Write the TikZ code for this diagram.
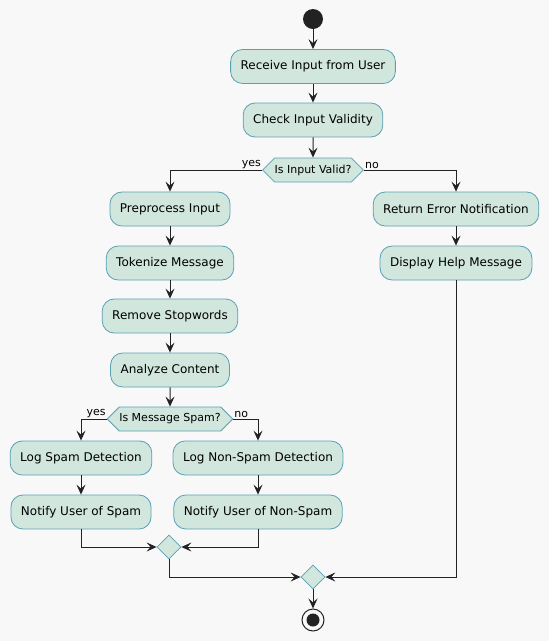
\documentclass[tikz,border=0pt]{standalone}
\usepackage{fontspec}
\setmainfont{DejaVu Sans}
\usetikzlibrary{shapes.geometric,shapes.symbols,arrows.meta}
\definecolor{bg}{RGB}{248,248,248}
\definecolor{actfill}{RGB}{209,230,221}
\definecolor{actline}{RGB}{90,160,180}
\definecolor{ink}{RGB}{34,34,34}
\begin{document}
\begin{tikzpicture}[x=1pt,y=-1pt, font=\fontsize{12}{14}\selectfont,
 act/.style={draw=actline, fill=actfill, rounded corners=12pt, minimum height=34pt, inner xsep=10pt, line width=0.8pt},
 dec/.style={shape=signal, signal to=west and east, signal pointer angle=90, draw=actline, fill=actfill, minimum height=24pt, inner xsep=0pt, inner ysep=0pt, line width=0.8pt, font=\fontsize{11}{13}\selectfont},
 mrg/.style={diamond, draw=actline, fill=actfill, minimum size=24pt, inner sep=0pt, line width=0.8pt},
 flow/.style={draw=ink, line width=1pt, -{Stealth[length=10pt,width=9pt,inset=4pt]}},
 lbl/.style={font=\fontsize{11}{13}\selectfont, inner sep=1pt}]
\path[fill=bg] (0,0) rectangle (549,641);
\node[circle, fill=ink, minimum size=20pt, inner sep=0pt] (start) at (313,19) {};
\node[act] (n1) at (313,66.5) {Receive Input from User};
\node[act] (n2) at (313,120) {Check Input Validity};
\node[dec] (d1) at (313,170) {Is Input Valid?};
\node[act] (pre) at (170,209) {Preprocess Input};
\node[act] (tok) at (170,263) {Tokenize Message};
\node[act] (rem) at (170,316) {Remove Stopwords};
\node[act] (ana) at (170,370) {Analyze Content};
\node[dec] (d2) at (170,419) {Is Message Spam?};
\node[act] (ls) at (81,458) {Log Spam Detection};
\node[act] (ns) at (81,512) {Notify User of Spam};
\node[act] (lns) at (258,458) {Log Non-Spam Detection};
\node[act] (nns) at (258,512) {Notify User of Non-Spam};
\node[mrg] (m1) at (169,547) {};
\node[act] (err) at (456,209) {Return Error Notification};
\node[act] (help) at (456,263) {Display Help Message};
\node[mrg] (m2) at (313,577) {};
\node[circle, draw=ink, line width=1pt, minimum size=22pt, fill=bg, inner sep=0pt] (end) at (313,620) {};
\fill[ink] (end.center) circle (6.5);
\draw[flow] (start) -- (n1);
\draw[flow] (n1) -- (n2);
\draw[flow] (n2) -- (d1);
\draw[flow] (d1.west) -| (pre.north);
\draw[flow] (d1.east) -| (err.north);
\draw[flow] (pre) -- (tok);
\draw[flow] (tok) -- (rem);
\draw[flow] (rem) -- (ana);
\draw[flow] (ana) -- (d2);
\draw[flow] (d2.west) -| (ls.north);
\draw[flow] (d2.east) -| (lns.north);
\draw[flow] (ls) -- (ns);
\draw[flow] (lns) -- (nns);
\draw[flow] (ns.south) |- (m1.west);
\draw[flow] (nns.south) |- (m1.east);
\draw[flow] (m1.south) |- (m2.west);
\draw[flow] (err) -- (help);
\draw[flow] (help.south) |- (m2.east);
\draw[flow] (m2) -- (end);
\node[lbl, anchor=south east] at (d1.west) {yes};
\node[lbl, anchor=south west] at (d1.east) {no};
\node[lbl, anchor=south east] at (d2.west) {yes};
\node[lbl, anchor=south west] at (d2.east) {no};
\end{tikzpicture}
\end{document}
